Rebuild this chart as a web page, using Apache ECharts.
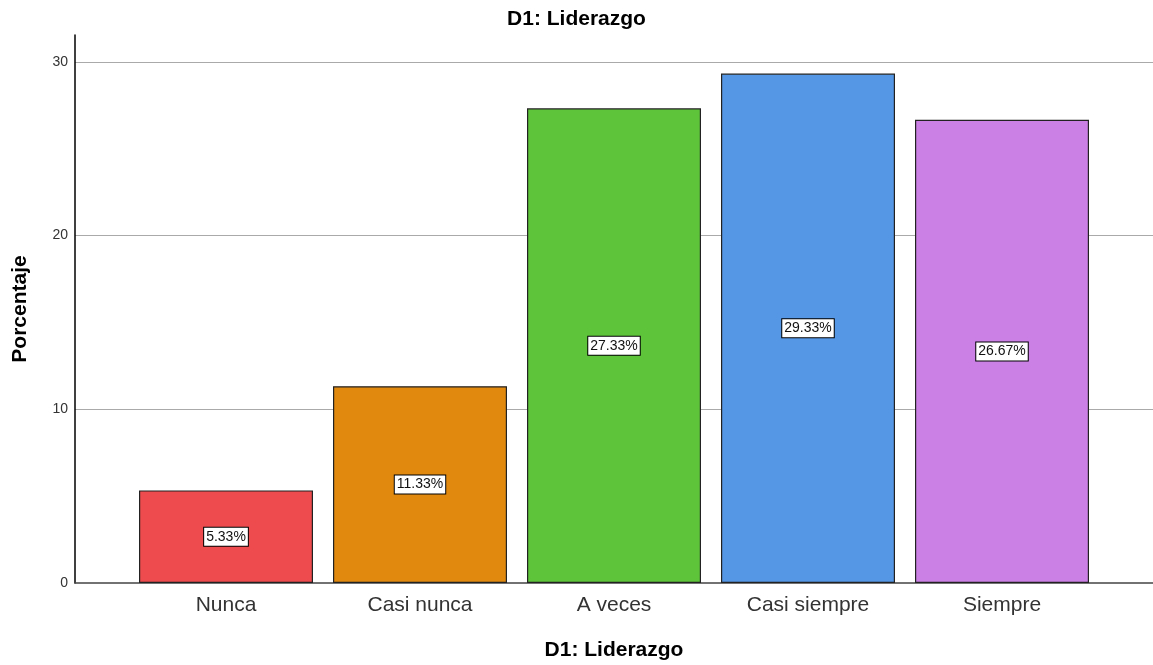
<!DOCTYPE html>
<html>
<head>
<meta charset="utf-8">
<script src="https://cdn.jsdelivr.net/npm/echarts@6/dist/echarts.min.js"></script>
<style>
  html, body { margin: 0; padding: 0; background: #fff; }
  #chart { width: 1153px; height: 665px; }
</style>
</head>
<body>
<div id="chart"></div>
<script>
const categories = ['Nunca', 'Casi nunca', 'A veces', 'Casi siempre', 'Siempre'];
const percentages = [5.33, 11.33, 27.33, 29.33, 26.67];
const barColors = ['#ed4b4d', '#e1890f', '#5ec43a', '#5596e5', '#cb80e5'];
const yTicks = [0, 10, 20, 30];

const chart = echarts.init(document.getElementById('chart'));
const font = 'Liberation Sans, Arial, sans-serif';

const option = {
  animation: false,
  title: {
    text: 'D1: Liderazgo',
    left: 'center',
    top: 4,
    textStyle: { fontFamily: font, fontSize: 21, fontWeight: 'bold', color: '#000' }
  },
  grid: [
    // background grid: axis lines and gridlines
    { left: 75, right: 0, top: 35, bottom: 82, outerBoundsMode: 'none' },
    // bars, inset like SPSS
    { left: 129, right: 54, top: 35, bottom: 82, outerBoundsMode: 'none' }
  ],
  xAxis: [
    {
      gridIndex: 0, type: 'category', data: categories,
      axisLine: { lineStyle: { color: '#444', width: 1.5 } },
      axisTick: { show: false }, axisLabel: { show: false },
      name: 'D1: Liderazgo', nameLocation: 'middle', nameGap: 57,
      nameTextStyle: { fontFamily: font, fontSize: 21, fontWeight: 'bold', color: '#000' }
    },
    {
      gridIndex: 1, type: 'category', data: categories,
      axisLine: { show: false }, axisTick: { show: false },
      axisLabel: { fontFamily: font, fontSize: 21, color: '#333', margin: 12 }
    }
  ],
  yAxis: [
    {
      gridIndex: 0, type: 'value', min: 0, max: 31.55, interval: 10,
      axisLine: { show: true, lineStyle: { color: '#000', width: 1.5 } },
      axisTick: { show: false },
      axisLabel: {
        fontFamily: font, fontSize: 14, color: '#333', margin: 7,
        formatter: v => yTicks.includes(v) ? String(v) : ''
      },
      splitLine: { show: false },
      name: 'Porcentaje', nameLocation: 'middle', nameGap: 44, nameRotate: 90,
      nameTextStyle: { fontFamily: font, fontSize: 21, fontWeight: 'bold', color: '#000' }
    },
    {
      gridIndex: 1, type: 'value', min: 0, max: 31.55, show: false
    }
  ],
  series: [
    {
      // gridlines across the whole plot, kept under the bars
      type: 'line', xAxisIndex: 0, yAxisIndex: 0,
      data: categories.map(() => null),
      silent: true, z: 1,
      markLine: {
        silent: true, symbol: 'none', label: { show: false }, z: 0,
        lineStyle: { color: '#aaaaaa', width: 1.2, type: 'solid' },
        data: yTicks.filter(v => v > 0).map(v => ({ yAxis: v }))
      }
    },
    {
      type: 'bar',
      xAxisIndex: 1, yAxisIndex: 1,
      barWidth: 174, z: 3,
      data: percentages.map((v, i) => ({
        value: v,
        itemStyle: { color: barColors[i], borderColor: '#222', borderWidth: 1.2 }
      })),
      label: {
        show: true,
        position: 'inside',
        formatter: p => p.value.toFixed(2) + '%',
        fontFamily: font, fontSize: 14, color: '#111',
        backgroundColor: '#fff', borderColor: '#000', borderWidth: 1,
        padding: [3, 2, 1, 2]
      }
    }
  ]
};
chart.setOption(option);
</script>
</body>
</html>
